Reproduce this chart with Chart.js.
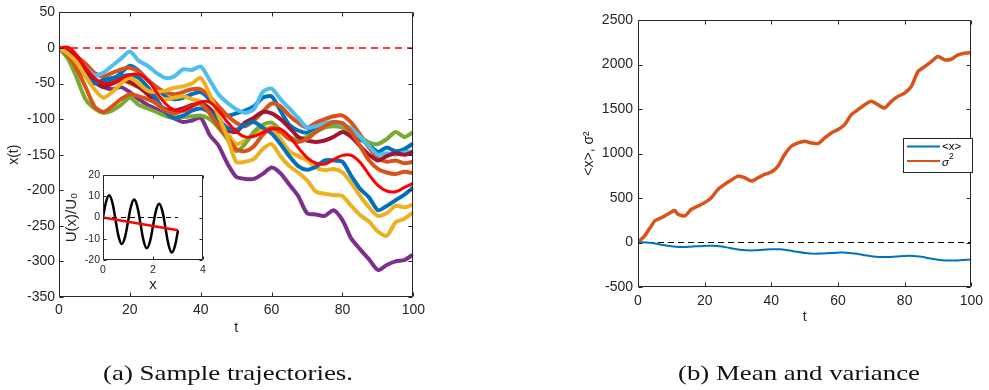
<!DOCTYPE html>
<html>
<head>
<meta charset="utf-8">
<script src="https://cdn.jsdelivr.net/npm/chart.js@4.4.1/dist/chart.umd.min.js"></script>
<style>
  body { margin: 0; background: #fff; width: 989px; height: 390px; position: relative; overflow: hidden; }
  canvas { position: absolute; }
  #trajChart { left: 0; top: 0; }
  #insetChart { left: 40px; top: 160px; }
  #momentChart { left: 560px; top: 0; }
  svg { position: absolute; left: 0; top: 0; }
</style>
</head>
<body>
<canvas id="trajChart" width="430" height="340"></canvas>
<canvas id="insetChart" width="175" height="135"></canvas>
<canvas id="momentChart" width="429" height="340"></canvas>
<svg width="989" height="390">
  <text x="103" y="380" textLength="250" lengthAdjust="spacingAndGlyphs" font-family="'Liberation Serif', 'DejaVu Serif', serif" font-size="21" fill="#111">(a) Sample trajectories.</text>
  <text x="678" y="380" textLength="242" lengthAdjust="spacingAndGlyphs" font-family="'Liberation Serif', 'DejaVu Serif', serif" font-size="21" fill="#111">(b) Mean and variance</text>
</svg>
<script>
// time grid of the sampled trajectories
const tSteps = [0,2.5,5,7.5,10,12.5,15,17.5,20,22.5,25,27.5,30,32.5,35,37.5,40,42.5,45,47.5,50,
  52.5,55,57.5,60,62.5,65,67.5,70,72.5,75,77.5,80,82.5,85,87.5,90,92.5,95,97.5,100];

const meanX = [0,1,-10,-28,-42,-50,-49,-43,-38,-37,-45,-62,-78,-87,-88,-82,-76,-76,-88,-104,-117,
  -125,-124,-119,-114,-114,-124,-140,-154,-162,-163,-157,-151,-151,-161,-178,-193,-201,-202,-196,-190];

const blueA = [0,-6,-18,-32,-45,-50,-45,-35,-25,-32,-45,-55,-68,-72,-70,-65,-62,-72,-85,-95,-92,
  -88,-82,-70,-68,-88,-108,-116,-119,-112,-106,-105,-106,-118,-128,-136,-146,-140,-145,-142,-134];
const orangeU = [0,-3,-12,-22,-35,-40,-35,-30,-28,-33,-45,-55,-62,-65,-62,-58,-58,-68,-82,-95,-105,
  -110,-102,-90,-78,-82,-95,-105,-112,-105,-100,-96,-95,-105,-122,-140,-155,-160,-158,-162,-160];
const yellowU = [0,-5,-18,-30,-45,-55,-50,-45,-50,-55,-60,-68,-72,-70,-68,-72,-75,-88,-105,-120,-135,
  -130,-122,-115,-112,-128,-145,-152,-158,-168,-172,-170,-175,-190,-208,-224,-236,-232,-222,-224,-220];
const purple = [0,-8,-22,-35,-48,-55,-58,-55,-62,-72,-80,-86,-95,-99,-104,-102,-98,-122,-137,-162,-181,
  -184,-184,-177,-168,-176,-192,-208,-232,-234,-236,-228,-242,-268,-283,-297,-312,-305,-300,-298,-290];
const green = [0,-15,-42,-72,-85,-91,-88,-80,-70,-80,-85,-90,-95,-98,-97,-96,-95,-100,-112,-128,-145,
  -135,-118,-108,-105,-115,-125,-128,-125,-118,-112,-110,-112,-118,-125,-133,-135,-128,-118,-125,-118];
const lightBlue = [0,-5,-15,-28,-38,-35,-25,-15,-5,-18,-25,-35,-42,-40,-30,-31,-26,-45,-65,-77,-86,
  -91,-86,-62,-57,-72,-85,-98,-112,-110,-106,-104,-108,-113,-125,-138,-150,-148,-150,-147,-145];
const darkRed = [0,-5,-15,-30,-45,-55,-50,-45,-48,-55,-65,-78,-86,-88,-85,-80,-78,-85,-100,-115,-118,
  -105,-98,-90,-92,-100,-112,-125,-130,-132,-130,-125,-118,-125,-138,-150,-158,-152,-148,-150,-146];
const blueB = [0,-10,-25,-40,-50,-45,-42,-40,-38,-42,-55,-72,-90,-98,-95,-88,-85,-90,-100,-112,-115,
  -108,-104,-112,-120,-135,-152,-166,-171,-167,-158,-158,-160,-180,-198,-210,-228,-222,-214,-206,-196];
const orangeL = [0,-10,-30,-55,-82,-90,-82,-72,-65,-68,-72,-78,-88,-92,-88,-82,-78,-92,-110,-125,-142,
  -145,-138,-122,-112,-118,-128,-132,-128,-118,-110,-104,-106,-118,-138,-158,-170,-175,-177,-174,-176];
const yellowL = [0,-8,-20,-40,-58,-70,-62,-50,-42,-50,-60,-62,-60,-56,-54,-50,-42,-65,-95,-125,-160,
  -160,-156,-142,-135,-152,-166,-175,-186,-202,-205,-207,-208,-222,-235,-244,-258,-264,-245,-240,-231];

// variance
const sigT = [0,2,4,5,6,8,10,11,12,14,16,18,20,22,24,26,28,30,32,34,36,38,40,42,44,46,48,50,
  52,54,56,58,60,62,64,66,68,70,72,74,76,78,80,82,84,86,88,90,92,94,96,98,100];
const sigV = [0,75,187,243,261,298,343,360,317,298,373,410,448,504,597,653,701,746,728,690,728,765,791,858,
  989,1082,1119,1138,1119,1112,1175,1231,1269,1325,1436,1492,1548,1586,1548,1511,1586,1642,1679,1754,
  1921,1977,2033,2089,2052,2059,2108,2127,2134];

// inset potential
const insetX = [0,0.125,0.25,0.375,0.5,0.625,0.75,0.875,1,1.125,1.25,1.375,1.5,1.625,1.75,1.875,
  2,2.125,2.25,2.375,2.5,2.625,2.75,2.875,3];
const insetU = [0,7.5,10.5,7,-1,-9,-12.5,-9.5,-2,5.5,8.5,5,-3,-11,-14.5,-11.5,-4,3.5,6.5,3,-5,-13,-16.5,-13.5,-6];
const tiltX = [0,3];
const tiltU = [0,-6];
const zeroInsetX = [0,3];

const fontFam = '"Liberation Sans", Arial, Helvetica, sans-serif';
const axisCol = '#262626';

function pts(xs, ys) { return xs.map((x, i) => ({ x: x, y: ys[i] })); }

// MATLAB-like box with inward ticks
const boxTicks = {
  id: 'boxTicks',
  beforeDatasetsDraw(chart) {
    const a = chart.chartArea, ctx = chart.ctx;
    ctx.save();
    ctx.fillStyle = '#fff';
    ctx.fillRect(a.left, a.top, a.right - a.left, a.bottom - a.top);
    ctx.restore();
  },
  afterDatasetsDraw(chart, args, opts) {
    const ctx = chart.ctx, a = chart.chartArea;
    const xs = chart.scales.x, ys = chart.scales.y;
    const L = opts.len || 4;
    const l = Math.round(a.left) + 0.5, r = Math.round(a.right) - 0.5;
    const t = Math.round(a.top) + 0.5, b = Math.round(a.bottom) - 0.5;
    ctx.save();
    ctx.strokeStyle = axisCol;
    ctx.lineWidth = 1;
    ctx.beginPath();
    ctx.rect(l, t, r - l, b - t);
    xs.ticks.forEach(tk => {
      const p = Math.round(xs.getPixelForValue(tk.value)) + 0.5;
      ctx.moveTo(p, b); ctx.lineTo(p, b - L);
      ctx.moveTo(p, t); ctx.lineTo(p, t + L);
    });
    ys.ticks.forEach(tk => {
      const p = Math.round(ys.getPixelForValue(tk.value)) + 0.5;
      ctx.moveTo(l, p); ctx.lineTo(l + L, p);
      ctx.moveTo(r, p); ctx.lineTo(r - L, p);
    });
    ctx.stroke();
    ctx.restore();
  }
};

function axis(opts) {
  return {
    type: 'linear',
    min: opts.min, max: opts.max,
    ticks: { stepSize: opts.step, color: axisCol, padding: opts.tickPad, maxRotation: 0,
      font: { family: fontFam, size: opts.tickSize }, callback: v => String(v) },
    grid: { display: false, drawTicks: false },
    border: { display: false },
    title: { display: true, text: opts.title, color: axisCol,
      font: { family: fontFam, size: opts.titleSize }, padding: opts.titlePad },
    afterFit: opts.fit
  };
}

function traj(data, color) {
  return { data: pts(tSteps, data), borderColor: color, borderWidth: 4, pointRadius: 0, tension: 0.25, fill: false };
}

new Chart(document.getElementById('trajChart'), {
  type: 'line',
  data: {
    datasets: [
      { data: pts(tSteps, meanX), borderColor: '#ff0000', borderWidth: 3, pointRadius: 0, tension: 0.4, fill: false },
      { data: pts([0, 100], [0, 0]), borderColor: '#ff0000', borderWidth: 1.6, borderDash: [7, 5], pointRadius: 0, fill: false },
      traj(yellowL, '#EDB120'),
      traj(orangeL, '#D95319'),
      traj(blueB, '#0072BD'),
      traj(darkRed, '#A2142F'),
      traj(lightBlue, '#4DBEEE'),
      traj(green, '#77AC30'),
      traj(purple, '#7E2F8E'),
      traj(yellowU, '#EDB120'),
      traj(orangeU, '#D95319'),
      traj(blueA, '#0072BD')
    ]
  },
  options: {
    responsive: false,
    animation: false,
    layout: { padding: { left: 0, right: 16, top: 11, bottom: 0 } },
    plugins: { legend: { display: false }, tooltip: { enabled: false }, boxTicks: { len: 4 } },
    scales: {
      x: axis({ min: 0, max: 100, step: 20, tickPad: 5, tickSize: 14, title: 't', titleSize: 14,
        titlePad: { top: 0, bottom: 3 }, fit: s => { s.height = 43; } }),
      y: axis({ min: -350, max: 50, step: 50, tickPad: 4, tickSize: 14, title: 'x(t)', titleSize: 14,
        titlePad: { top: 6, bottom: 0 }, fit: s => { s.width = 59; } })
    }
  },
  plugins: [boxTicks]
});

new Chart(document.getElementById('insetChart'), {
  type: 'line',
  data: {
    datasets: [
      { data: pts(tiltX, tiltU), borderColor: '#ff0000', borderWidth: 2.5, pointRadius: 0, fill: false },
      { data: pts(insetX, insetU), borderColor: '#000', borderWidth: 2.5, pointRadius: 0, tension: 0.4, fill: false },
      { data: pts(zeroInsetX, [0, 0]), borderColor: '#000', borderWidth: 1, borderDash: [5, 4], pointRadius: 0, fill: false }
    ]
  },
  options: {
    responsive: false,
    animation: false,
    layout: { padding: { left: 0, right: 12, top: 15, bottom: 0 } },
    plugins: { legend: { display: false }, tooltip: { enabled: false }, boxTicks: { len: 3 } },
    scales: {
      x: axis({ min: 0, max: 4, step: 2, tickPad: 4, tickSize: 10.5, title: 'x', titleSize: 15,
        titlePad: { top: 0, bottom: 1 }, fit: s => { s.height = 35; } }),
      y: axis({ min: -20, max: 20, step: 10, tickPad: 3, tickSize: 10.5, title: 'U(x)/U\u2080', titleSize: 15,
        titlePad: { top: 23, bottom: 0 }, fit: s => { s.width = 63; } })
    }
  },
  plugins: [boxTicks]
});

const legendBox = {
  id: 'legendBox',
  afterDraw(chart) {
    const ctx = chart.ctx;
    const x0 = 343, y0 = 138, w = 69, h = 34;
    ctx.save();
    ctx.fillStyle = '#fff';
    ctx.fillRect(x0, y0, w, h);
    ctx.strokeStyle = axisCol;
    ctx.lineWidth = 1;
    ctx.strokeRect(x0 + 0.5, y0 + 0.5, w, h);
    ctx.lineWidth = 2;
    ctx.strokeStyle = '#0072BD';
    ctx.beginPath(); ctx.moveTo(x0 + 4, y0 + 8.5); ctx.lineTo(x0 + 37, y0 + 8.5); ctx.stroke();
    ctx.strokeStyle = '#D95319';
    ctx.beginPath(); ctx.moveTo(x0 + 4, y0 + 23); ctx.lineTo(x0 + 37, y0 + 23); ctx.stroke();
    ctx.fillStyle = '#000';
    ctx.textBaseline = 'middle';
    ctx.font = '11.5px ' + fontFam;
    ctx.fillText('<x>', x0 + 39, y0 + 9);
    ctx.font = 'italic 11.5px ' + fontFam;
    ctx.fillText('\u03c3', x0 + 39, y0 + 25);
    ctx.font = '8.5px ' + fontFam;
    ctx.fillText('2', x0 + 46, y0 + 19);
    ctx.restore();
  }
};

new Chart(document.getElementById('momentChart'), {
  type: 'line',
  data: {
    datasets: [
      { data: pts(tSteps, meanX), borderColor: '#0072BD', borderWidth: 2, pointRadius: 0, tension: 0.4, fill: false },
      { data: pts(sigT, sigV), borderColor: '#D95319', borderWidth: 3.5, pointRadius: 0, tension: 0.2, fill: false },
      { data: pts([0, 100], [0, 0]), borderColor: '#000', borderWidth: 1, borderDash: [6, 4], pointRadius: 0, fill: false }
    ]
  },
  options: {
    responsive: false,
    animation: false,
    layout: { padding: { left: 0, right: 13, top: 20, bottom: 0 } },
    plugins: { legend: { display: false }, tooltip: { enabled: false }, boxTicks: { len: 4 } },
    scales: {
      x: axis({ min: 0, max: 100, step: 20, tickPad: 6, tickSize: 14, title: 't', titleSize: 14,
        titlePad: { top: 0, bottom: 14 }, fit: s => { s.height = 53; } }),
      y: axis({ min: -500, max: 2500, step: 500, tickPad: 5, tickSize: 14, title: '<x>, \u03c3\u00b2', titleSize: 14,
        titlePad: { top: 21, bottom: 0 }, fit: s => { s.width = 78; } })
    }
  },
  plugins: [boxTicks, legendBox]
});
</script>
</body>
</html>
